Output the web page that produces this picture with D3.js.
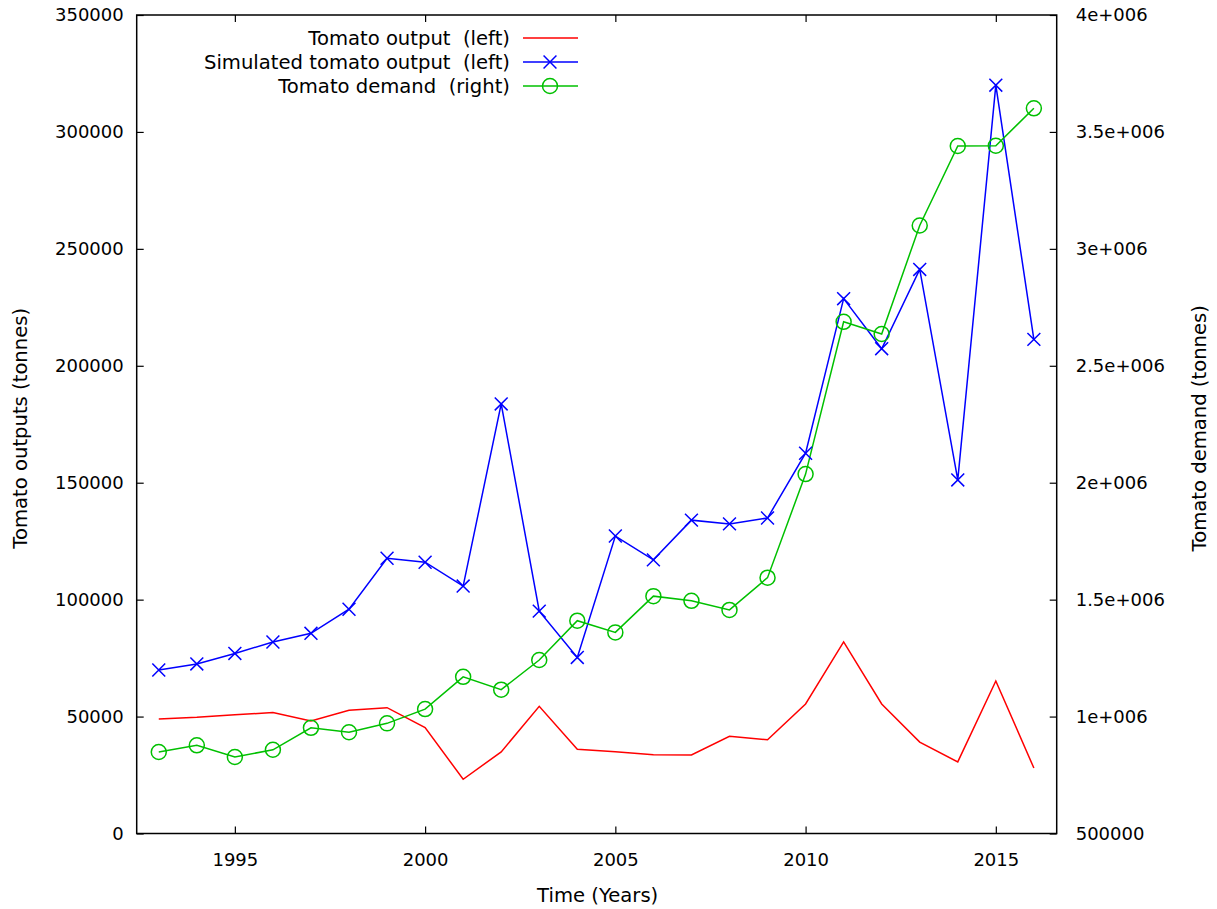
<!DOCTYPE html>
<html>
<head>
<meta charset="utf-8">
<script src="https://cdn.jsdelivr.net/npm/d3@7"></script>
<style>
  html, body { margin: 0; padding: 0; background: #fff; }
  svg text { font-family: "DejaVu Sans", Verdana, sans-serif; fill: #000; white-space: pre; }
</style>
</head>
<body>
<svg id="chart" width="1217" height="909"></svg>
<script>
// Years of observation
const years = [1993, 1994, 1995, 1996, 1997, 1998, 1999, 2000, 2001, 2002, 2003, 2004,
               2005, 2006, 2007, 2008, 2009, 2010, 2011, 2012, 2013, 2014, 2015, 2016];

// Observed tomato output (tonnes, left axis)
const tomatoOutput = [49000, 49700, 50800, 51700, 48100, 52700, 53800, 45300, 23200, 34900, 54400, 36000,
                      35000, 33700, 33600, 41600, 40100, 55400, 81900, 55400, 39100, 30600, 65200, 28000];

// Simulated tomato output (tonnes, left axis)
const simulatedOutput = [69900, 72500, 77000, 81900, 85600, 95900, 117700, 116000, 105800, 183700, 95100, 75300,
                         127200, 117000, 134000, 132400, 134900, 162600, 228700, 207300, 241200, 151200, 320000, 211300];

// Tomato demand (tonnes, right axis)
const tomatoDemand = [848500, 877000, 827000, 858000, 952000, 933000, 971000, 1032000, 1170000, 1115000, 1242000, 1410000,
                      1360000, 1515000, 1495000, 1456000, 1594000, 2037000, 2688000, 2636000, 3100000, 3440000, 3441000, 3601000];

// Tick values and labels
const xTicks = [1995, 2000, 2005, 2010, 2015];
const yLeftTicks = [0, 50000, 100000, 150000, 200000, 250000, 300000, 350000];
const yRightTicks = [500000, 1000000, 1500000, 2000000, 2500000, 3000000, 3500000, 4000000];
const yRightLabels = ["500000", "1e+006", "1.5e+006", "2e+006", "2.5e+006", "3e+006", "3.5e+006", "4e+006"];

const seriesNames = ["Tomato output  (left)", "Simulated tomato output  (left)", "Tomato demand  (right)"];
const seriesColors = ["#ff0000", "#0000ff", "#00c000"];

const svg = d3.select("#chart");
const plot = { left: 136.7, right: 1056.7, top: 15, bottom: 833.5 };

const x = d3.scaleLinear().domain([1992.42, 2016.6]).range([plot.left, plot.right]);
const yL = d3.scaleLinear().domain([0, 350000]).range([plot.bottom, plot.top]);
const yR = d3.scaleLinear().domain([500000, 4000000]).range([plot.bottom, plot.top]);

const tickFont = 18;
const labelFont = 19.6;
const tickLen = 7;

// Axes (inward ticks)
const axisStyle = g => {
  g.select(".domain").remove();
  g.selectAll(".tick line").attr("stroke", "#000").attr("stroke-width", 1.2);
  g.selectAll(".tick text").attr("font-size", tickFont).attr("font-family", "DejaVu Sans, Verdana, sans-serif").attr("fill", "#000");
};

svg.append("g")
  .attr("transform", `translate(0,${plot.bottom})`)
  .call(d3.axisBottom(x).tickValues(xTicks).tickFormat(d3.format("d")).tickSizeInner(-tickLen).tickSizeOuter(0).tickPadding(20))
  .call(axisStyle);

svg.append("g")
  .attr("transform", `translate(0,${plot.top})`)
  .call(d3.axisTop(x).tickValues(xTicks).tickFormat("").tickSizeInner(-tickLen).tickSizeOuter(0))
  .call(axisStyle);

svg.append("g")
  .attr("transform", `translate(${plot.left},0)`)
  .call(d3.axisLeft(yL).tickValues(yLeftTicks).tickFormat(d3.format("d")).tickSizeInner(-tickLen).tickSizeOuter(0).tickPadding(13))
  .call(axisStyle);

svg.append("g")
  .attr("transform", `translate(${plot.right},0)`)
  .call(d3.axisRight(yR).tickValues(yRightTicks).tickFormat((d, i) => yRightLabels[i]).tickSizeInner(-tickLen).tickSizeOuter(0).tickPadding(19))
  .call(axisStyle);

// Frame
svg.append("rect")
  .attr("x", plot.left).attr("y", plot.top)
  .attr("width", plot.right - plot.left).attr("height", plot.bottom - plot.top)
  .attr("fill", "none").attr("stroke", "#000").attr("stroke-width", 1.5);

// Axis titles
svg.append("text").attr("x", (plot.left + plot.right) / 2 + 1).attr("y", 902)
  .attr("text-anchor", "middle").attr("font-size", labelFont).text("Time (Years)");
svg.append("text").attr("transform", `translate(27,${(plot.top + plot.bottom) / 2 + 4}) rotate(-90)`)
  .attr("text-anchor", "middle").attr("font-size", labelFont).text("Tomato outputs (tonnes)");
svg.append("text").attr("transform", `translate(1206,${(plot.top + plot.bottom) / 2 + 4}) rotate(-90)`)
  .attr("text-anchor", "middle").attr("font-size", labelFont).text("Tomato demand (tonnes)");

// Series
const lineL = d3.line().x((d, i) => x(years[i])).y(d => yL(d));
const lineR = d3.line().x((d, i) => x(years[i])).y(d => yR(d));

svg.append("path").datum(tomatoOutput).attr("d", lineL)
  .attr("fill", "none").attr("stroke", seriesColors[0]).attr("stroke-width", 1.5);

svg.append("path").datum(simulatedOutput).attr("d", lineL)
  .attr("fill", "none").attr("stroke", seriesColors[1]).attr("stroke-width", 1.5);

svg.append("path").datum(tomatoDemand).attr("d", lineR)
  .attr("fill", "none").attr("stroke", seriesColors[2]).attr("stroke-width", 1.5);

const cross = d3.symbol().type(d3.symbolX).size(110);
svg.append("g").selectAll("path").data(simulatedOutput).join("path")
  .attr("transform", (d, i) => `translate(${x(years[i])},${yL(d)})`)
  .attr("d", cross).attr("fill", "none").attr("stroke", seriesColors[1]).attr("stroke-width", 1.5);

svg.append("g").selectAll("circle").data(tomatoDemand).join("circle")
  .attr("cx", (d, i) => x(years[i])).attr("cy", d => yR(d)).attr("r", 7.5)
  .attr("fill", "none").attr("stroke", seriesColors[2]).attr("stroke-width", 1.5);

// Legend
const legend = svg.append("g");
const legY = [38, 62, 86];
seriesNames.forEach((name, i) => {
  legend.append("text").attr("x", 510).attr("y", legY[i]).attr("dy", "0.36em")
    .attr("text-anchor", "end").attr("font-size", labelFont).text(name);
  legend.append("line").attr("x1", 523).attr("x2", 578).attr("y1", legY[i]).attr("y2", legY[i])
    .attr("stroke", seriesColors[i]).attr("stroke-width", 1.5);
});
legend.append("path").attr("transform", `translate(550,${legY[1]})`).attr("d", cross)
  .attr("fill", "none").attr("stroke", seriesColors[1]).attr("stroke-width", 1.5);
legend.append("circle").attr("cx", 550).attr("cy", legY[2]).attr("r", 7.5)
  .attr("fill", "none").attr("stroke", seriesColors[2]).attr("stroke-width", 1.5);
</script>
</body>
</html>
